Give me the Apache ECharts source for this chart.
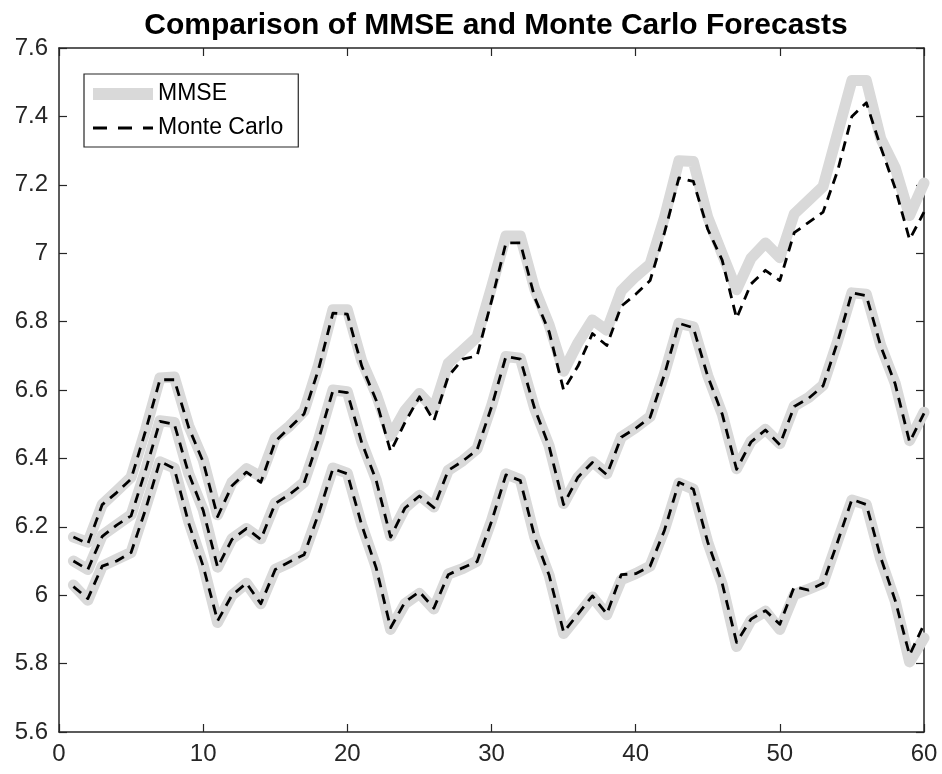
<!DOCTYPE html>
<html><head><meta charset="utf-8">
<script src="https://cdn.jsdelivr.net/npm/echarts@6/dist/echarts.min.js"></script>
<style>html,body{margin:0;padding:0;background:#fff}#c{width:942px;height:774px}</style>
</head><body><div id="c"></div>
<script>
const titleText = 'Comparison of MMSE and Monte Carlo Forecasts';
const legendNames = ['MMSE', 'Monte Carlo'];
const xTicks = [0, 10, 20, 30, 40, 50, 60];
const yTicks = [5.6, 5.8, 6, 6.2, 6.4, 6.6, 6.8, 7, 7.2, 7.4, 7.6];

const mmseUpper = [6.170,6.155,6.265,6.305,6.345,6.483,6.635,6.638,6.495,6.396,6.235,6.330,
  6.370,6.347,6.460,6.495,6.538,6.673,6.835,6.835,6.685,6.588,6.465,6.540,
  6.590,6.545,6.678,6.716,6.755,6.900,7.050,7.050,6.895,6.790,6.655,6.738,
  6.805,6.775,6.890,6.932,6.968,7.105,7.270,7.268,7.105,6.998,6.893,6.985,
  7.030,6.987,7.115,7.155,7.195,7.350,7.505,7.505,7.335,7.250,7.110,7.205];
const mmseMean = [6.100,6.075,6.175,6.205,6.235,6.365,6.510,6.505,6.355,6.250,6.082,6.165,
  6.195,6.165,6.270,6.295,6.330,6.455,6.600,6.595,6.448,6.338,6.173,6.255,
  6.292,6.258,6.365,6.393,6.428,6.553,6.698,6.693,6.545,6.436,6.268,6.345,
  6.390,6.355,6.462,6.490,6.522,6.648,6.795,6.785,6.642,6.530,6.370,6.450,
  6.485,6.443,6.553,6.578,6.614,6.742,6.884,6.880,6.730,6.620,6.452,6.535];
const mmseLower = [6.030,5.985,6.085,6.105,6.125,6.255,6.390,6.372,6.215,6.088,5.920,6.000,
  6.035,5.975,6.076,6.095,6.120,6.240,6.372,6.357,6.205,6.082,5.900,5.975,
  6.005,5.960,6.062,6.078,6.100,6.218,6.355,6.338,6.170,6.058,5.888,5.940,
  5.995,5.943,6.045,6.063,6.085,6.192,6.328,6.310,6.155,6.032,5.850,5.927,
  5.953,5.900,6.002,6.018,6.035,6.158,6.278,6.265,6.105,5.983,5.805,5.875];

const mcUpper = [6.170,6.150,6.265,6.300,6.340,6.480,6.630,6.630,6.490,6.390,6.230,6.320,
  6.360,6.330,6.450,6.490,6.530,6.660,6.825,6.822,6.670,6.570,6.420,6.505,
  6.580,6.510,6.640,6.690,6.700,6.860,7.030,7.030,6.870,6.770,6.600,6.670,
  6.765,6.730,6.845,6.880,6.920,7.060,7.220,7.210,7.070,6.980,6.810,6.910,
  6.950,6.920,7.060,7.090,7.120,7.240,7.400,7.440,7.310,7.190,7.040,7.120];
const mcMean = [6.100,6.075,6.172,6.205,6.232,6.365,6.508,6.500,6.355,6.248,6.082,6.163,
  6.195,6.163,6.268,6.295,6.328,6.455,6.598,6.592,6.446,6.336,6.170,6.255,
  6.290,6.256,6.365,6.392,6.425,6.550,6.698,6.690,6.545,6.435,6.265,6.345,
  6.388,6.352,6.462,6.488,6.520,6.646,6.795,6.782,6.640,6.530,6.368,6.448,
  6.483,6.440,6.552,6.576,6.612,6.740,6.884,6.876,6.728,6.618,6.448,6.532];
const mcLower = [6.025,5.990,6.085,6.100,6.125,6.250,6.392,6.370,6.210,6.085,5.925,6.000,
  6.035,5.975,6.075,6.098,6.118,6.238,6.370,6.355,6.205,6.080,5.905,5.980,
  6.010,5.962,6.060,6.080,6.098,6.215,6.352,6.335,6.170,6.058,5.892,5.945,
  5.998,5.945,6.060,6.063,6.085,6.190,6.330,6.310,6.155,6.035,5.862,5.930,
  5.955,5.915,6.025,6.015,6.035,6.155,6.280,6.265,6.110,5.985,5.825,5.915];

const pairs = arr => arr.map((v, i) => [i + 1, v]);
const FONT = "'Liberation Sans', Arial, Helvetica, sans-serif";
const AX = '#262626';
const GRAY = '#d9d9d9';

function mmse(arr) {
  return { name: legendNames[0], type: 'line', data: pairs(arr), symbol: 'none', silent: true,
    xAxisIndex: 0, yAxisIndex: 0,
    lineStyle: { color: GRAY, width: 11, cap: 'round', join: 'round' }, itemStyle: { color: GRAY }, z: 2 };
}
function mc(arr) {
  return { name: legendNames[1], type: 'line', data: pairs(arr), symbol: 'none', silent: true,
    xAxisIndex: 0, yAxisIndex: 0,
    lineStyle: { color: '#000', width: 2.8, type: [10, 7], join: 'round' }, itemStyle: { color: '#000' }, z: 3 };
}

const xBase = { type: 'value', min: xTicks[0], max: xTicks[xTicks.length - 1], interval: 10,
  axisLine: { show: true, onZero: false, lineStyle: { color: AX, width: 1.5 } },
  axisTick: { show: true, inside: true, length: 8, lineStyle: { color: AX, width: 1.2 } },
  splitLine: { show: false } };
const yBase = { type: 'value', min: yTicks[0], max: yTicks[yTicks.length - 1], interval: 0.2,
  axisLine: { show: true, onZero: false, lineStyle: { color: AX, width: 1.5 } },
  axisTick: { show: true, inside: true, length: 8, lineStyle: { color: AX, width: 1.2 } },
  splitLine: { show: false } };

const chart = echarts.init(document.getElementById('c'), null, { renderer: 'canvas' });
chart.setOption({
  animation: false,
  backgroundColor: '#fff',
  title: { text: titleText, left: 491, textAlign: 'center', top: 6,
    textStyle: { fontFamily: FONT, fontSize: 30, fontWeight: 'bold', color: '#000' } },
  grid: { left: 59, right: 18, top: 48, bottom: 42, containLabel: false },
  legend: {
    orient: 'vertical', left: 84, top: 74,
    padding: [8, 15, 7, 3], itemGap: 10, itemWidth: 60, itemHeight: 14,
    borderColor: AX, borderWidth: 1.2, backgroundColor: '#fff',
    textStyle: { fontFamily: FONT, fontSize: 23, color: '#000', lineHeight: 24 },
    selectedMode: false,
    data: [
      { name: legendNames[0], itemStyle: { opacity: 0, borderWidth: 0 }, lineStyle: { color: GRAY, width: 12, cap: 'butt' } },
      { name: legendNames[1], itemStyle: { opacity: 0, borderWidth: 0 }, lineStyle: { color: '#000', width: 3, type: [14, 11] } }
    ]
  },
  xAxis: [
    Object.assign({}, xBase, { position: 'bottom',
      axisLabel: { show: true, fontFamily: FONT, fontSize: 24, color: AX, margin: 10 } }),
    Object.assign({}, xBase, { position: 'top', axisLabel: { show: false } })
  ],
  yAxis: [
    Object.assign({}, yBase, { position: 'left',
      axisLabel: { show: true, fontFamily: FONT, fontSize: 24, color: AX, margin: 11 } }),
    Object.assign({}, yBase, { position: 'right', axisLabel: { show: false } })
  ],
  series: [mmse(mmseUpper), mmse(mmseMean), mmse(mmseLower), mc(mcUpper), mc(mcMean), mc(mcLower)]
});
</script>
</body></html>
